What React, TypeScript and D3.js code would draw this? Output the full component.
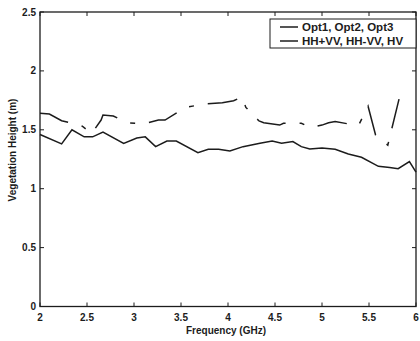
import React from "react";
import * as d3 from "d3";

const solidFreq = [2.0, 2.23, 2.34, 2.47, 2.56, 2.67, 2.89, 3.03, 3.12, 3.23, 3.35, 3.45, 3.68, 3.79, 3.9, 4.02, 4.16, 4.34, 4.47, 4.57, 4.69, 4.78, 4.87, 5.0, 5.14, 5.28, 5.42, 5.6, 5.72, 5.81, 5.93, 6.0];
const solidHeight = [1.46, 1.38, 1.5, 1.44, 1.44, 1.48, 1.385, 1.43, 1.44, 1.357, 1.405, 1.405, 1.306, 1.335, 1.335, 1.32, 1.357, 1.385, 1.405, 1.385, 1.4, 1.357, 1.337, 1.345, 1.335, 1.295, 1.267, 1.19, 1.18, 1.17, 1.23, 1.14];

const optFreq = [2.0, 2.1, 2.23, 2.32, 2.45, 2.55, 2.65, 2.67, 2.78, 2.93, 3.1, 3.26, 3.33, 3.55, 3.75, 3.94, 4.06, 4.15, 4.19, 4.33, 4.38, 4.55, 4.59, 4.78, 4.88, 5.0, 5.07, 5.14, 5.35, 5.39, 5.49, 5.57, 5.7, 5.83, 5.88];
const optHeight = [1.64, 1.634, 1.577, 1.56, 1.53, 1.47, 1.583, 1.626, 1.617, 1.56, 1.55, 1.583, 1.583, 1.69, 1.72, 1.73, 1.747, 1.78, 1.69, 1.575, 1.56, 1.54, 1.555, 1.555, 1.52, 1.54, 1.56, 1.57, 1.54, 1.54, 1.7, 1.456, 1.37, 1.795, 1.82];

const xTicks = [2, 2.5, 3, 3.5, 4, 4.5, 5, 5.5, 6];
const yTicks = [0, 0.5, 1, 1.5, 2, 2.5];
const legendLabels = ["Opt1, Opt2, Opt3", "HH+VV, HH-VV, HV"];

export default function App() {
  const W = 420, H = 341;
  const left = 40, right = 416, top = 12, bottom = 306.5;
  const x = d3.scaleLinear().domain([2, 6]).range([left, right]);
  const y = d3.scaleLinear().domain([0, 2.5]).range([bottom, top]);
  const line = d3.line<[number, number]>().x(d => x(d[0])).y(d => y(d[1]));
  const solidPath = line(solidFreq.map((f, i) => [f, solidHeight[i]]) as [number, number][]) || "";
  const optPath = line(optFreq.map((f, i) => [f, optHeight[i]]) as [number, number][]) || "";
  const font = "'Liberation Sans', Arial, sans-serif";
  const ink = "#1c1c1c";
  const tl = 4;
  const txt = { fontFamily: font, fill: ink, fontWeight: "bold" } as const;
  return (
    <svg width={W} height={H} style={{ position: "absolute", left: 0, top: 0, background: "#fff" }}>
      <rect x={0} y={0} width={W} height={H} fill="#fff" />
      <path d={optPath} fill="none" stroke={ink} strokeWidth={1.5} strokeDasharray="30,14,5,14" />
      <path d={solidPath} fill="none" stroke={ink} strokeWidth={1.5} />
      <rect x={left} y={top} width={right - left} height={bottom - top} fill="none" stroke={ink} strokeWidth={1.3} />
      {xTicks.map(t => (
        <g key={"x" + t}>
          <line x1={x(t)} x2={x(t)} y1={bottom} y2={bottom - tl} stroke={ink} strokeWidth={1} />
          <line x1={x(t)} x2={x(t)} y1={top} y2={top + tl} stroke={ink} strokeWidth={1} />
          <text x={x(t)} y={321} textAnchor="middle" fontSize={10} {...txt}>{String(t)}</text>
        </g>
      ))}
      {yTicks.map(t => (
        <g key={"y" + t}>
          <line x1={left} x2={left + tl} y1={y(t)} y2={y(t)} stroke={ink} strokeWidth={1} />
          <line x1={right} x2={right - tl} y1={y(t)} y2={y(t)} stroke={ink} strokeWidth={1} />
          <text x={36} y={y(t) + 3.5} textAnchor="end" fontSize={10} {...txt}>{String(t)}</text>
        </g>
      ))}
      <text x={226} y={334} textAnchor="middle" fontSize={10} {...txt}>Frequency (GHz)</text>
      <text transform={`translate(16,150) rotate(-90)`} textAnchor="middle" fontSize={10} {...txt}>Vegetation Height (m)</text>
      <rect x={270} y={19} width={146} height={29} fill="#fff" stroke={ink} strokeWidth={1} />
      {legendLabels.map((lab, i) => (
        <g key={lab}>
          <line x1={280} x2={298} y1={27 + i * 14} y2={27 + i * 14} stroke={ink} strokeWidth={1.5} />
          <text x={302} y={31 + i * 14} fontSize={11.5} {...txt}>{lab}</text>
        </g>
      ))}
    </svg>
  );
}
